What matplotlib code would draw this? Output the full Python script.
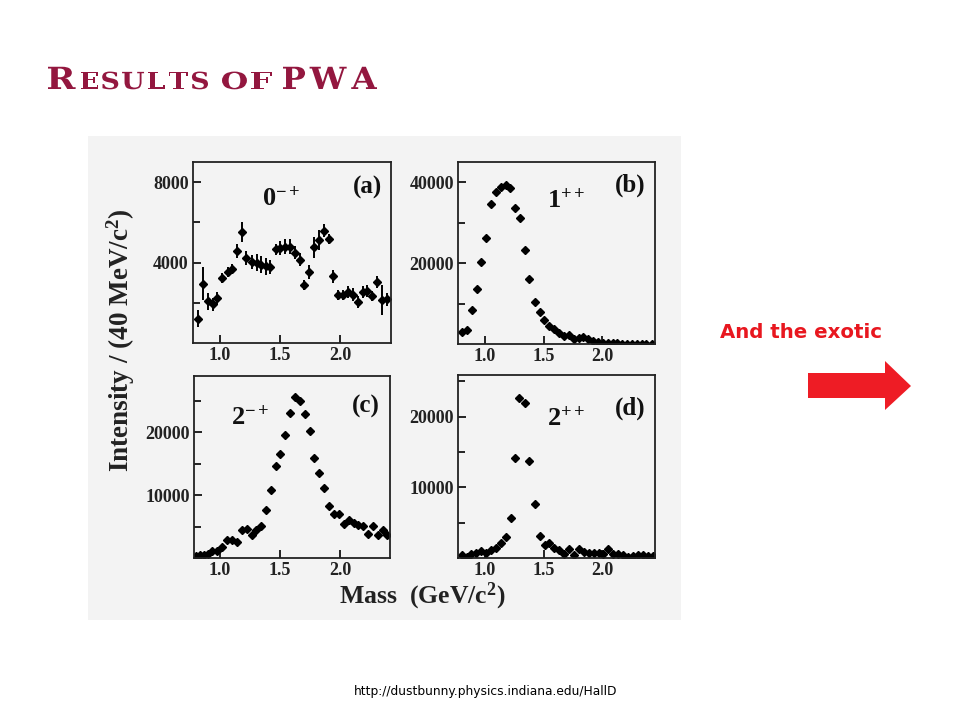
import matplotlib
matplotlib.use('Agg')
import matplotlib.pyplot as plt
import matplotlib.transforms as mtransforms
from matplotlib.patches import Rectangle, Polygon, PathPatch
from matplotlib.textpath import TextPath
from matplotlib.font_manager import FontProperties

plt.rcParams['mathtext.fontset'] = 'custom'
plt.rcParams['mathtext.rm'] = 'Liberation Serif:bold'
plt.rcParams['mathtext.bf'] = 'Liberation Serif:bold'
plt.rcParams['mathtext.it'] = 'Liberation Serif:bold'
SERIF = 'Liberation Serif'

# ---- donnees (GeV, evenements / 40 MeV) ----
# (a) 0-+
mass_a = [0.82, 0.856, 0.897, 0.94, 0.978, 1.02, 1.064, 1.10, 1.144, 1.18,
          1.22, 1.264, 1.305, 1.34, 1.383, 1.42, 1.464, 1.50, 1.54, 1.583,
          1.625, 1.667, 1.70, 1.744, 1.786, 1.828, 1.87, 1.908, 1.944, 1.986,
          2.028, 2.07, 2.11, 2.147, 2.19, 2.228, 2.27, 2.31, 2.35, 2.394]
int_a = [1200, 2950, 2080, 1920, 2230, 3250, 3550, 3700, 4570, 5530,
         4230, 4030, 4000, 3900, 3820, 3780, 4650, 4730, 4780, 4780,
         4500, 4150, 2870, 3530, 4750, 5120, 5580, 5170, 3320, 2370,
         2400, 2530, 2400, 2030, 2530, 2570, 2330, 3030, 2120, 2170]
err_a = [420, 830, 420, 330, 330, 250, 250, 250, 330, 500,
         330, 330, 420, 420, 420, 330, 250, 330, 370, 370,
         330, 330, 250, 330, 500, 500, 330, 250, 330, 250,
         250, 300, 330, 300, 300, 300, 250, 300, 750, 330]

# (b) 1++
mass_b = [0.80, 0.843, 0.886, 0.929, 0.966, 1.009, 1.049, 1.091, 1.134, 1.177,
          1.214, 1.257, 1.30, 1.343, 1.38, 1.423, 1.466, 1.506, 1.549, 1.591,
          1.634, 1.671, 1.714, 1.757, 1.80, 1.837, 1.88, 1.923, 1.963, 2.006,
          2.049, 2.09, 2.13, 2.17, 2.21, 2.26, 2.30, 2.34, 2.38, 2.43]
int_b = [2920, 3500, 8500, 13500, 20300, 26200, 34600, 37500, 38750, 39300,
         38500, 33750, 31250, 23250, 16000, 10400, 7900, 6000, 4330, 3750,
         2670, 2080, 2250, 1170, 1420, 1670, 1170, 830, 580, 330,
         200, 150, 150, 120, 120, 100, 100, 100, 100, 100]

# (c) 2-+
mass_c = [0.80, 0.833, 0.867, 0.903, 0.936, 0.978, 1.019, 1.061, 1.103, 1.144,
          1.18, 1.222, 1.264, 1.30, 1.342, 1.383, 1.422, 1.464, 1.50, 1.542,
          1.583, 1.625, 1.667, 1.708, 1.75, 1.786, 1.828, 1.87, 1.911, 1.95,
          1.992, 2.033, 2.075, 2.117, 2.153, 2.194, 2.236, 2.272, 2.314, 2.356, 2.394]
int_c = [270, 430, 530, 690, 1170, 1060, 1700, 2900, 2800, 2480,
         4370, 4640, 3590, 4370, 5160, 7640, 10800, 14630, 16470, 19470,
         23050, 25630, 25000, 22790, 20160, 15950, 13420, 11160, 8270, 7010,
         7010, 5380, 6060, 5530, 5270, 5160, 3800, 5160, 3690, 4370, 3690]

# (d) 2++
mass_d = [0.80, 0.843, 0.88, 0.923, 0.963, 1.006, 1.049, 1.091, 1.134, 1.177,
          1.22, 1.257, 1.294, 1.343, 1.38, 1.423, 1.466, 1.509, 1.549, 1.591,
          1.634, 1.677, 1.72, 1.757, 1.80, 1.843, 1.886, 1.929, 1.971, 2.009,
          2.051, 2.094, 2.134, 2.177, 2.22, 2.263, 2.306, 2.349, 2.391, 2.434]
int_d = [370, 180, 520, 750, 990, 750, 1080, 1450, 2160, 2960,
         5680, 14130, 22580, 21880, 13760, 7650, 3100, 1780, 2060, 1450,
         1130, 610, 1220, 420, 1220, 840, 750, 660, 660, 520,
         1220, 520, 520, 420, 140, 280, 420, 370, 280, 280]

xticks = [1.0, 1.5, 2.0]
xtick_labels = ['1.0', '1.5', '2.0']

fig = plt.figure(figsize=(9.6, 7.2), dpi=100)
fig.patch.set_facecolor('white')

def fx(px):
    return px / 960.0

def fy(py):
    return 1 - py / 720.0

# fond gris de l'image
fig.add_artist(Rectangle((fx(88), fy(620)), fx(681) - fx(88), fy(136) - fy(620),
                         transform=fig.transFigure, facecolor='#f3f3f3',
                         edgecolor='none', zorder=0))

def panel(box, x, y, yerr, xlim, ylim, yt_major, yt_minor, jpc, tag, jpc_pos, tag_pos):
    ax = fig.add_axes(box)
    ax.set_facecolor('none')
    ax.errorbar(x, y, yerr=yerr, fmt='D', color='black', ms=4.2,
                elinewidth=1.4, capsize=0)
    ax.set_xlim(*xlim)
    ax.set_ylim(*ylim)
    ax.set_xticks(xticks)
    ax.set_xticklabels(xtick_labels)
    ax.set_yticks(yt_major)
    ax.set_yticklabels([str(v) for v in yt_major])
    ax.set_yticks(yt_minor, minor=True)
    ax.tick_params(which='major', direction='in', length=6, width=1.2, pad=3,
                   top=False, right=False)
    ax.tick_params(which='minor', direction='in', length=5, width=1.2,
                   top=False, right=False)
    for lab in ax.get_xticklabels() + ax.get_yticklabels():
        lab.set_fontfamily(SERIF)
        lab.set_fontweight('bold')
        lab.set_fontsize(13)
        lab.set_color('#222222')
    for s in ax.spines.values():
        s.set_linewidth(1.3)
        s.set_color('#222222')
    ax.text(jpc_pos[0], jpc_pos[1], jpc, transform=ax.transAxes, fontsize=19,
            ha='left', va='center', color='#111111')
    ax.text(tag_pos[0], tag_pos[1], tag, transform=ax.transAxes, fontsize=18,
            ha='right', va='center', family=SERIF, fontweight='bold', color='#111111')
    return ax

panel([fx(193), fy(343), fx(391) - fx(193), fy(162) - fy(343)],
      mass_a, int_a, err_a, (0.775, 2.425), (0, 9000), [4000, 8000], [2000, 6000],
      r'$\mathbf{0}^{\mathbf{-+}}$', '(a)', (0.35, 0.80), (0.955, 0.86))
panel([fx(458), fy(344), fx(655) - fx(458), fy(162) - fy(344)],
      mass_b, int_b, 250, (0.769, 2.453), (0, 45000), [20000, 40000], [10000, 30000],
      r'$\mathbf{1}^{\mathbf{++}}$', '(b)', (0.45, 0.79), (0.95, 0.87))
panel([fx(194), fy(558), fx(390) - fx(194), fy(376) - fy(558)],
      mass_c, int_c, 200, (0.783, 2.417), (0, 28900), [10000, 20000], [5000, 15000, 25000],
      r'$\mathbf{2}^{\mathbf{-+}}$', '(c)', (0.19, 0.77), (0.95, 0.83))
panel([fx(458), fy(558), fx(655) - fx(458), fy(375) - fy(558)],
      mass_d, int_d, 200, (0.769, 2.453), (0, 25900), [10000, 20000], [5000, 15000, 25000],
      r'$\mathbf{2}^{\mathbf{++}}$', '(d)', (0.45, 0.765), (0.95, 0.82))

fig.text(fx(121), fy(340), r'Intensity / (40 MeV/c$^{2}$)', rotation=90,
         ha='center', va='center', family=SERIF, fontweight='bold',
         fontsize=19.5, color='#222222')
fig.text(fx(422), fy(596), r'Mass  (GeV/c$^{2}$)', ha='center', va='center',
         family=SERIF, fontweight='bold', fontsize=18.5, color='#222222')

# titre en petites capitales : contours de lettres etires horizontalement
# pour imiter une police large type Copperplate
title_col = '#93173f'
fp_title = FontProperties(family='DejaVu Serif', weight='bold')
pix = mtransforms.Affine2D().scale(1 / 960.0, 1 / 720.0) + fig.transFigure
big, small = 30.5, 23.5   # taille em en pixels
groups = [([('R', big), ('E', small), ('S', small), ('U', small), ('L', small),
            ('T', small), ('S', small)], 48, 208),
          ([('O', small), ('F', small)], 222, 272),
          ([('P', big), ('W', big), ('A', big)], 283, 377)]
for letters, x0, x1 in groups:
    paths = []
    xcur = 0.0
    for ch, size in letters:
        p = TextPath((0, 0), ch, size=size, prop=fp_title)
        ext = p.get_extents()
        paths.append(p.transformed(mtransforms.Affine2D().translate(xcur - ext.x0, 0)))
        xcur += ext.width + 0.14 * size
    xcur -= 0.14 * letters[-1][1]
    sx = (x1 - x0) / xcur
    tr = mtransforms.Affine2D().scale(sx, 1).translate(x0, 720 - 89) + pix
    for p in paths:
        fig.add_artist(PathPatch(p, transform=tr, facecolor=title_col,
                                 edgecolor='none', lw=0))

fig.text(fx(801), fy(333), 'And the exotic', ha='center', va='center',
         fontsize=14.2, fontweight='bold', family='DejaVu Sans', color='#e8171f')

arrow_px = [(808, 373), (885, 373), (885, 361), (911, 386), (885, 410), (885, 398), (808, 398)]
fig.add_artist(Polygon([(fx(a), fy(b)) for a, b in arrow_px], closed=True,
                       transform=fig.transFigure, facecolor='#ee1c25', edgecolor='none'))

fig.text(fx(486), fy(692), 'http://dustbunny.physics.indiana.edu/HallD', ha='center',
         va='center', fontsize=8.8, family='DejaVu Sans', color='black')

fig.savefig('out.png', dpi=100)
